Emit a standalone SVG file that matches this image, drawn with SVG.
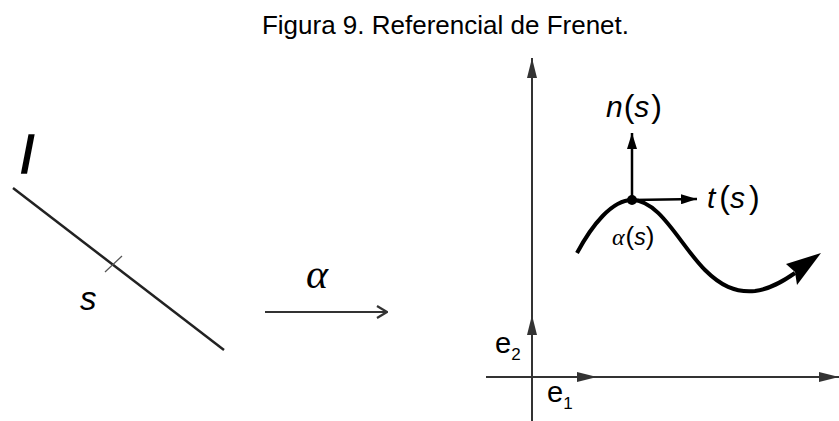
<svg xmlns="http://www.w3.org/2000/svg" width="839" height="421" viewBox="0 0 839 421">
<style>
.t{font-family:"Liberation Sans",Arial,sans-serif;fill:#000}
.m{font-family:"Liberation Sans",Arial,sans-serif;font-style:italic;fill:#000}
.g{font-family:"Liberation Serif","Times New Roman",serif;font-style:italic;fill:#000}
.p{font-style:normal}
.ax{stroke:#333;stroke-width:2;fill:none}
.vec{stroke:#000;stroke-width:2.5;fill:none}
</style>
<defs>
<marker id="tri" viewBox="0 0 20 10" refX="20" refY="5" markerWidth="20" markerHeight="10" markerUnits="userSpaceOnUse" orient="auto">
<path d="M0,0 L20,5 L0,10 Z" fill="#333"/>
</marker>
<marker id="tri2" viewBox="0 0 16 10" refX="16" refY="5" markerWidth="16" markerHeight="10" markerUnits="userSpaceOnUse" orient="auto">
<path d="M0,0 L16,5 L0,10 Z" fill="#000"/>
</marker>
<marker id="open" viewBox="0 0 12 14" refX="11" refY="7" markerWidth="12" markerHeight="14" markerUnits="userSpaceOnUse" orient="auto">
<path d="M1,1 L11,7 L1,13" fill="none" stroke="#333" stroke-width="2.2"/>
</marker>
</defs>
<text class="t" x="445.5" y="34" font-size="26" text-anchor="middle">Figura 9. Referencial de Frenet.</text>
<g id="line-l">
<line x1="13" y1="188" x2="224" y2="350" stroke="#222" stroke-width="2.5"/>
<line x1="105" y1="272" x2="122" y2="256" stroke="#555" stroke-width="1.2"/>
<text class="m" x="21" y="173" font-size="52" stroke="#000" stroke-width="1.6">l</text>
<text class="m" x="80" y="310" font-size="33">s</text>
</g>
<g id="map-alpha">
<line x1="265" y1="312" x2="387" y2="312" class="ax" marker-end="url(#open)"/>
<text class="g" x="306" y="288" font-size="42">α</text>
</g>
<g id="axes">
<line x1="532" y1="421" x2="532" y2="58" class="ax" marker-end="url(#tri)"/>
<line x1="486" y1="377" x2="839" y2="377" class="ax" marker-end="url(#tri)"/>
<line x1="532" y1="377" x2="532" y2="315" class="ax" marker-end="url(#tri)"/>
<line x1="532" y1="377" x2="597" y2="377" class="ax" marker-end="url(#tri)"/>
<text class="t" x="495" y="353" font-size="29">e<tspan font-size="17" dy="7">2</tspan></text>
<text class="t" x="547" y="402" font-size="29">e<tspan font-size="17" dy="7">1</tspan></text>
</g>
<g id="curve">
<path d="M577,253 C592,225 612,200 632,200 C660,200 680,245 705,270 C720,285 735,293 755,291 C770,289 782,282 795,273" fill="none" stroke="#000" stroke-width="4"/>
<polygon points="821,253 786,264 795,272 797,285" fill="#000"/>
</g>
<g id="frame">
<line x1="632" y1="200" x2="632" y2="133" class="vec" marker-end="url(#tri2)"/>
<line x1="632" y1="200" x2="697" y2="199" class="vec" marker-end="url(#tri2)"/>
<circle cx="632" cy="200" r="5" fill="#000"/>
<text class="m" x="606" y="117" font-size="30">n<tspan class="p" font-size="32" dx="1">(</tspan>s<tspan class="p" font-size="32" dx="2">)</tspan></text>
<text class="m" x="707" y="208" font-size="30">t<tspan class="p" font-size="32" dx="4">(</tspan>s<tspan class="p" font-size="32" dx="4">)</tspan></text>
<text class="g" x="612" y="245" font-size="24">α<tspan class="m" font-size="23" dx="1"><tspan class="p" font-size="26">(</tspan>s<tspan class="p" font-size="26">)</tspan></tspan></text>
</g>
</svg>
